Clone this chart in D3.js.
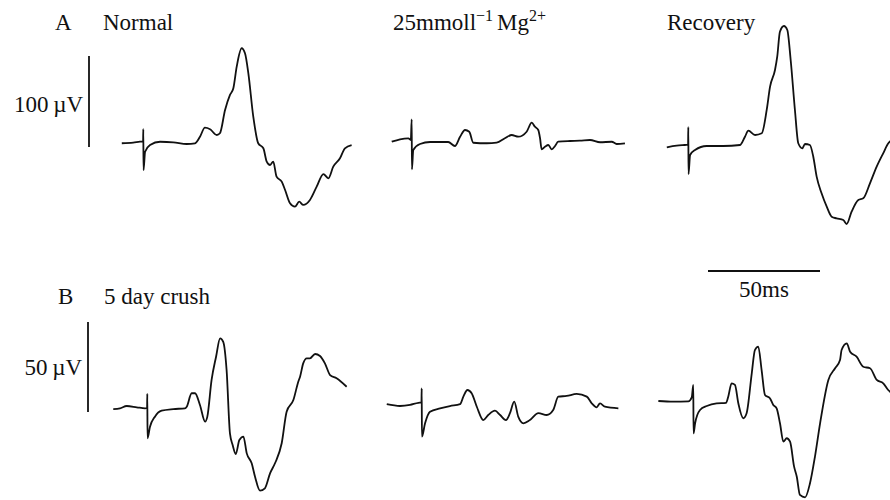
<!DOCTYPE html>
<html>
<head>
<meta charset="utf-8">
<script src="https://cdn.jsdelivr.net/npm/d3@7"></script>
<style>
  html, body { margin: 0; padding: 0; background: #fff; }
  svg { display: block; }
  text { font-family: "Liberation Serif", "Times New Roman", serif; fill: #111; }
</style>
</head>
<body>
<svg id="chart" width="890" height="500"></svg>
<script>
// ---------- DATA (time in ms relative to stimulus, voltage in µV) ----------
const panelTitles = ["Normal", "25mmoll", "Recovery"];
const rowLabels = ["A", "B"];
const rowSubtitles = ["Normal", "5 day crush"];
const voltScaleLabels = ["100", "50"];
const voltScaleValues = [100, 50];
const timeScaleValue = 50;
const timeScaleLabel = "50ms";

// Row A — Normal
const normalT = [-9.6,-4.5,-1.5,-0.1,0,0.1,0.8,3.0,7.5,13.4,19.4,23.1,25.3,27.5,29.8,32.8,34.2,36.5,38.7,40.2,41.7,43.9,45.4,46.9,49.1,51.3,53.6,55.1,56.6,58.0,59.5,61.8,63.3,65.5,67.7,69.6,71.4,74.4,77.4,80.4,82.6,84.8,87.8,90.0,93.0];
const normalV = [-1.4,-0.8,0.3,0.5,14.0,-30.8,-10.7,-3.3,0.3,-0.3,-2.2,-1.4,5.8,15.7,14.0,7.7,9.6,35.2,51.7,59.0,82.8,103.0,97.5,75.5,27.8,-1.4,-6.9,-21.6,-25.3,-21.6,-38.1,-43.6,-52.8,-67.4,-71.1,-65.6,-69.2,-63.7,-49.1,-35.2,-39.9,-27.1,-17.9,-6.9,-3.3];
// Row A — 25 mM Mg2+
const mgAT = [-8.9,-5.2,-1.5,-0.4,0,0.1,0.7,3.7,8.2,16.3,19.3,21.6,23.8,25.7,27.5,33.5,37.9,41.6,44.6,47.6,51.3,53.6,55.0,56.5,57.3,58.0,59.5,61.0,62.5,64.0,65.4,70.7,75.1,79.6,84.1,89.3,91.5,95.2];
const mgAV = [0.3,3.0,4.0,2.2,24.9,-30.0,-8.8,-2.2,0,0,-4.4,5.8,13.2,11.3,-0.8,-1.4,-0.8,4.1,7.7,5.8,11.3,21.2,16.8,13.2,4.1,-8.0,-5.2,-3.3,-8.0,-4.4,0.3,1.1,1.4,2.2,-0.3,0.3,-2.2,-1.4];
// Row A — Recovery
const recAT = [-9.6,-5.2,-1.5,-0.1,0,0.1,0.8,3.0,8.2,15.6,23.1,25.3,26.8,29.8,32.8,35.0,36.5,38.7,39.7,40.9,42.7,44.2,45.7,47.6,49.1,50.9,52.1,54.3,55.8,57.3,59.5,61.8,64.0,66.2,69.2,70.7,72.9,75.9,78.1,81.1,84.1,87.0,89.3,90.9];
const recAV = [-5.8,-4.1,-3.3,-3.0,16.2,-35.2,-14.3,-8.8,-4.4,-4.4,-3.3,5.8,12.4,7.7,9.6,35.2,60.8,79.1,93.7,121.2,127.5,123.1,90.1,35.2,-1.4,-6.9,-2.2,-3.3,-16.2,-38.1,-56.4,-71.1,-82.1,-83.9,-85.7,-90.1,-76.6,-63.7,-61.9,-45.4,-27.1,-12.4,-1.4,2.2];

// Row B — 5 day crush
const crushT = [-15.2,-12.2,-9.2,-4.7,-1.0,-0.1,0,0.1,1.2,3.4,6.4,11.6,16.8,17.6,19.8,21.3,23.5,25.8,26.8,28.7,30.7,32.5,33.9,35.4,36.9,38.1,39.5,41.1,42.9,44.4,46.6,48.1,50.3,52.5,54.8,57.0,60.0,62.2,65.2,67.4,68.2,69.6,71.2,72.6,74.9,77.1,79.3,81.6,84.5,89.0];
const crushV = [-0.6,-0.2,1.1,0.4,-0.2,0,7.8,-16.8,-10.4,-4.8,-1.5,-0.6,-0.2,0.7,8.2,8.2,1.7,-7.6,-4.8,15.6,28.5,38.7,36.8,21.1,-14.1,-20.6,-25.6,-17.8,-15.9,-25.2,-30.7,-38.2,-45.9,-44.6,-36.3,-30.7,-19.6,-2.1,4.4,14.6,17.4,24.8,27.6,27.6,30.0,28.9,24.8,18.3,16.5,11.8];
// Row B — 25 mM Mg2+
const mgBT = [-15.6,-9.7,-5.2,-1.5,-0.1,0,0.1,1.5,3.7,8.2,12.6,17.1,18.6,20.4,22.3,24.6,27.5,29.7,32.7,35.0,37.6,39.4,41.3,43.1,45.4,48.3,52.1,55.8,58.7,61.0,64.7,69.2,73.7,75.9,78.1,79.6,81.8,87.8];
const mgBV = [2.1,1.1,1.7,2.9,3.0,10.9,-15.9,-8.5,-2.1,-0.2,1.1,2.1,6.3,10.0,8.2,0.7,-6.7,-3.9,-1.5,-3.9,-6.7,-2.9,3.5,-4.8,-8.5,-6.7,-2.9,-3.9,-1.1,6.3,6.7,7.8,6.3,2.6,0.4,2.6,0.7,-0.2];
// Row B — Recovery
const recBT = [-15.6,-8.9,-2.2,-0.7,0,0.1,0.8,3.0,6.0,10.4,14.6,15.6,17.1,18.6,20.1,22.3,23.8,26.1,27.5,29.0,30.5,32.0,34.2,35.7,37.2,38.7,40.2,41.7,43.2,45.0,46.2,47.6,49.9,52.1,54.3,56.6,60.3,63.3,65.5,66.2,68.5,70.0,72.9,75.9,78.9,81.9,84.8,87.0,89.1];
const recBV = [3.9,3.5,3.7,5.9,12.8,-14.1,-8.5,-1.1,1.1,2.6,2.9,6.3,13.7,12.8,2.6,-5.7,-2.9,19.3,32.2,34.1,21.1,7.2,5.4,1.7,-0.2,-8.5,-18.7,-16.8,-18.7,-32.6,-38.2,-48.3,-49.6,-41.8,-27.1,-8.5,15.6,22.1,26.7,32.2,35.9,31.3,28.5,22.9,22.1,15.6,13.7,10.0,7.8];

// ---------- LAYOUT ----------
const svg = d3.select("#chart");
const pxPerMs = 112 / 50;
const stimX = [[143.3, 411.7, 688.3], [147.3, 421.7, 693.3]];
const rowBase = [142, 408];
const pxPerUv = [0.91, 1.8];

const traces = [
  [[normalT, normalV], [mgAT, mgAV], [recAT, recAV]],
  [[crushT, crushV], [mgBT, mgBV], [recBT, recBV]]
];

const yScales = rowBase.map((b, r) =>
  d3.scaleLinear().domain([0, 100]).range([b, b - 100 * pxPerUv[r]]));

traces.forEach((row, r) => {
  row.forEach(([T, V], c) => {
    const x0 = stimX[r][c];
    const x = d3.scaleLinear().domain([0, 50]).range([x0, x0 + 50 * pxPerMs]);
    const y = yScales[r];
    const pts = T.map((t, i) => [t, V[i]]);
    const line = d3.line()
      .x(d => x(d[0]))
      .y(d => y(d[1]))
      .curve(d3.curveMonotoneX);
    svg.append("path")
      .attr("d", line(pts))
      .attr("fill", "none")
      .attr("stroke", "#111")
      .attr("stroke-width", 1.8)
      .attr("stroke-linejoin", "round");
  });
});

// ---------- SCALE BARS ----------
const vBars = [{x: 89, bottom: 147, r: 0, labelY: 112}, {x: 88, bottom: 412, r: 1, labelY: 375}];
vBars.forEach((b, i) => {
  const len = yScales[b.r](0) - yScales[b.r](voltScaleValues[i]);
  svg.append("line")
    .attr("x1", b.x).attr("x2", b.x)
    .attr("y1", b.bottom - len).attr("y2", b.bottom)
    .attr("stroke", "#111").attr("stroke-width", 1.8);
  svg.append("text")
    .attr("x", b.x - 6).attr("y", b.labelY)
    .attr("text-anchor", "end")
    .attr("font-size", 23)
    .text(voltScaleLabels[i] + "\u2009\u00B5V");
});

const tScale = d3.scaleLinear().domain([0, timeScaleValue]).range([708, 708 + timeScaleValue * pxPerMs]);
svg.append("line")
  .attr("x1", tScale(0)).attr("x2", tScale(timeScaleValue))
  .attr("y1", 271).attr("y2", 271)
  .attr("stroke", "#111").attr("stroke-width", 2);
svg.append("text")
  .attr("x", (tScale(0) + tScale(timeScaleValue)) / 2).attr("y", 297)
  .attr("text-anchor", "middle").attr("font-size", 23)
  .text(timeScaleLabel);

// ---------- LABELS ----------
const labelY = [30, 304];
const labelX = [[55, 103], [58, 104]];
rowLabels.forEach((l, r) => {
  svg.append("text").attr("x", labelX[r][0]).attr("y", labelY[r]).attr("font-size", 23).text(l);
  svg.append("text").attr("x", labelX[r][1]).attr("y", labelY[r]).attr("font-size", 23).text(rowSubtitles[r]);
});

const mg = svg.append("text").attr("x", 393).attr("y", 30).attr("font-size", 23);
mg.append("tspan").text(panelTitles[1]);
mg.append("tspan").attr("dy", -9).attr("font-size", 16).text("\u22121");
mg.append("tspan").attr("dy", 9).attr("dx", 4).text("Mg");
mg.append("tspan").attr("dy", -9).attr("font-size", 16).text("2+");

svg.append("text").attr("x", 667).attr("y", 30).attr("font-size", 23).text(panelTitles[2]);
</script>
</body>
</html>
